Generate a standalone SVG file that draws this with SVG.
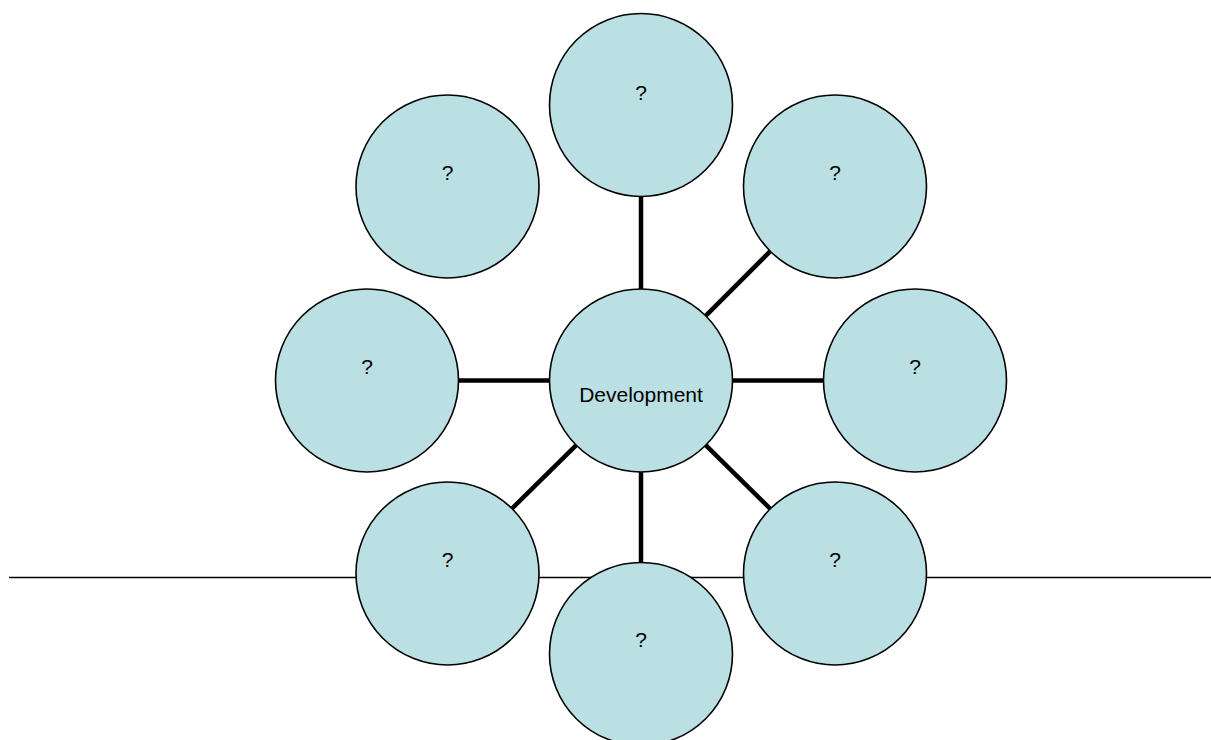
<svg xmlns="http://www.w3.org/2000/svg" width="1211" height="740" viewBox="0 0 1211 740">
<style>
.node circle{fill:#BBE0E3;stroke:#000;stroke-width:1.6}
.node text{font-family:"Liberation Sans",Arial,sans-serif;font-size:21px;fill:#000;text-anchor:middle}
.conn line{stroke:#000;stroke-width:4.5}
.base{stroke:#000;stroke-width:1.6}
</style>
<rect width="1211" height="740" fill="#fff"/>
<line class="base" x1="9" y1="577.5" x2="1211" y2="577.5"/>
<g id="connectors" class="conn">
<line x1="641" y1="196.5" x2="641" y2="289"/>
<line x1="705.7" y1="315.8" x2="770.3" y2="251.2"/>
<line x1="732.5" y1="380.5" x2="823.5" y2="380.5"/>
<line x1="705.7" y1="445.2" x2="770.3" y2="508.8"/>
<line x1="641" y1="472" x2="641" y2="562.5"/>
<line x1="576.3" y1="445.2" x2="511.7" y2="508.8"/>
<line x1="549.5" y1="380.5" x2="458.5" y2="380.5"/>
</g>
<g id="node-center" class="node"><circle cx="641" cy="380.5" r="91.5"/><text x="641" y="401.5">Development</text></g>
<g id="node-top" class="node"><circle cx="641" cy="105" r="91.5"/><text x="641" y="99.5">?</text></g>
<g id="node-top-right" class="node"><circle cx="835" cy="186.5" r="91.5"/><text x="835" y="180">?</text></g>
<g id="node-right" class="node"><circle cx="915" cy="380.5" r="91.5"/><text x="915" y="374">?</text></g>
<g id="node-bottom-right" class="node"><circle cx="835" cy="573.5" r="91.5"/><text x="835" y="567">?</text></g>
<g id="node-bottom" class="node"><circle cx="641" cy="654" r="91.5"/><text x="641" y="647">?</text></g>
<g id="node-bottom-left" class="node"><circle cx="447.5" cy="573.5" r="91.5"/><text x="447.5" y="567">?</text></g>
<g id="node-left" class="node"><circle cx="367" cy="380.5" r="91.5"/><text x="367" y="374">?</text></g>
<g id="node-top-left" class="node"><circle cx="447.5" cy="186.5" r="91.5"/><text x="447.5" y="180">?</text></g>
</svg>
